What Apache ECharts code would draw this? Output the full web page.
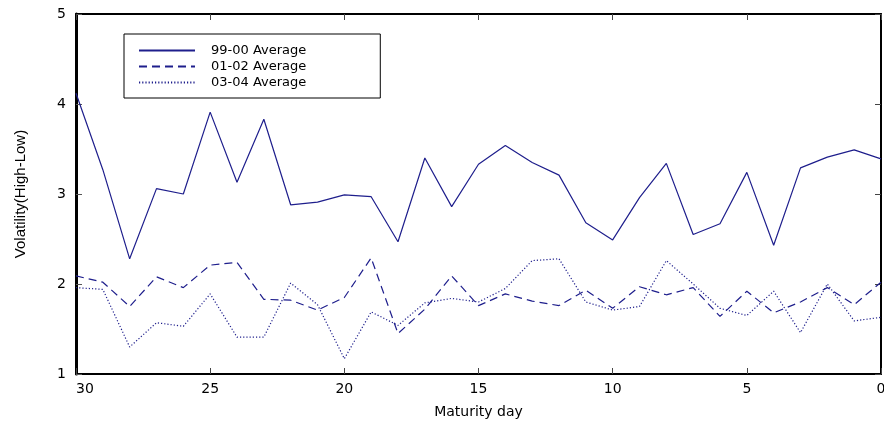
<!DOCTYPE html>
<html>
<head>
<meta charset="utf-8">
<script src="https://cdn.jsdelivr.net/npm/echarts@6/dist/echarts.min.js"></script>
<style>html,body{margin:0;padding:0;background:#fff}#c{width:884px;height:425px}</style>
</head>
<body>
<div id="c"></div>
<script>
const days = [30,29,28,27,26,25,24,23,22,21,20,19,18,17,16,15,14,13,12,11,10,9,8,7,6,5,4,3,2,1,0];
const avg9900 = [4.12,3.27,2.28,3.06,3.00,3.91,3.13,3.83,2.88,2.91,2.99,2.97,2.47,3.40,2.86,3.33,3.54,3.35,3.21,2.68,2.49,2.96,3.34,2.55,2.67,3.24,2.43,3.29,3.41,3.49,3.39];
const avg0102 = [2.09,2.02,1.75,2.08,1.96,2.21,2.24,1.83,1.82,1.71,1.85,2.29,1.45,1.72,2.09,1.76,1.89,1.81,1.76,1.93,1.73,1.97,1.88,1.96,1.64,1.92,1.68,1.80,1.96,1.77,2.02];
const avg0304 = [1.96,1.94,1.30,1.57,1.53,1.89,1.41,1.41,2.01,1.77,1.17,1.69,1.54,1.79,1.84,1.80,1.95,2.26,2.28,1.80,1.71,1.75,2.26,2.00,1.73,1.65,1.92,1.46,2.00,1.59,1.63];
const seriesNames = ['99-00 Average','01-02 Average','03-04 Average'];
const xTicks = [0,5,10,15,20,25,30];
const yTicks = [1,2,3,4,5];

const lineColor = '#1e1e8c';
const wideFont = 'DejaVu Sans';
function pairs(vals){ return days.map((d,i)=>[d, vals[i]]); }

const chart = echarts.init(document.getElementById('c'), null, {renderer:'canvas'});
const axisCommon = {
  type:'value', splitLine:{show:false}
};
chart.setOption({
  animation:false,
  backgroundColor:'#fff',
  grid:{left:76, right:3, top:14, bottom:51, containLabel:false, outerBoundsMode:'none'},
  legend:{
    orient:'vertical', left:124, top:34,
    borderColor:'#000', borderWidth:1,
    padding:[10,74,9,14],
    itemWidth:56, itemHeight:14, itemGap:3,
    itemStyle:{opacity:0},
    textStyle:{fontFamily:wideFont, fontSize:13, color:'#000', padding:[0,0,0,11]},
    data:seriesNames
  },
  xAxis:[
    Object.assign({}, axisCommon, {
      min:xTicks[0], max:xTicks[xTicks.length-1], interval:5, inverse:true, position:'bottom',
      name:'Maturity day', nameLocation:'middle', nameGap:31,
      nameTextStyle:{fontFamily:wideFont, fontSize:14, color:'#000'},
      axisLine:{show:true, onZero:false, lineStyle:{color:'#000', width:2}},
      axisTick:{show:true, inside:true, length:6, lineStyle:{color:'#444'}},
      axisLabel:{fontFamily:wideFont, fontSize:14, color:'#000', margin:8, alignMaxLabel:'left'}
    }),
    Object.assign({}, axisCommon, {
      min:xTicks[0], max:xTicks[xTicks.length-1], interval:5, inverse:true, position:'top',
      axisLine:{show:true, onZero:false, lineStyle:{color:'#000', width:2}},
      axisTick:{show:true, inside:true, length:6, lineStyle:{color:'#444'}},
      axisLabel:{show:false}
    })
  ],
  yAxis:[
    Object.assign({}, axisCommon, {
      min:yTicks[0], max:yTicks[yTicks.length-1], interval:1, position:'left',
      name:'Volatility(High-Low)', nameLocation:'middle', nameGap:48,
      nameTextStyle:{fontFamily:'Liberation Sans', fontSize:15, color:'#000'},
      axisLine:{show:true, onZero:false, lineStyle:{color:'#000', width:3}},
      axisTick:{show:true, inside:true, length:6, lineStyle:{color:'#555'}},
      axisLabel:{fontFamily:wideFont, fontSize:14, color:'#000', margin:10}
    }),
    Object.assign({}, axisCommon, {
      min:yTicks[0], max:yTicks[yTicks.length-1], interval:1, position:'right',
      axisLine:{show:true, onZero:false, lineStyle:{color:'#000', width:2}},
      axisTick:{show:true, inside:true, length:6, lineStyle:{color:'#444'}},
      axisLabel:{show:false}
    })
  ],
  series:[
    {name:seriesNames[0], type:'line', data:pairs(avg9900), symbol:'none', lineStyle:{color:lineColor, width:1.2, type:'solid'}, itemStyle:{color:lineColor}},
    {name:seriesNames[1], type:'line', data:pairs(avg0102), symbol:'none', lineStyle:{color:lineColor, width:1.2, type:[8,5]}, itemStyle:{color:lineColor}},
    {name:seriesNames[2], type:'line', data:pairs(avg0304), symbol:'none', lineStyle:{color:lineColor, width:1.2, type:[1.2,2]}, itemStyle:{color:lineColor}}
  ]
});
</script>
</body>
</html>
